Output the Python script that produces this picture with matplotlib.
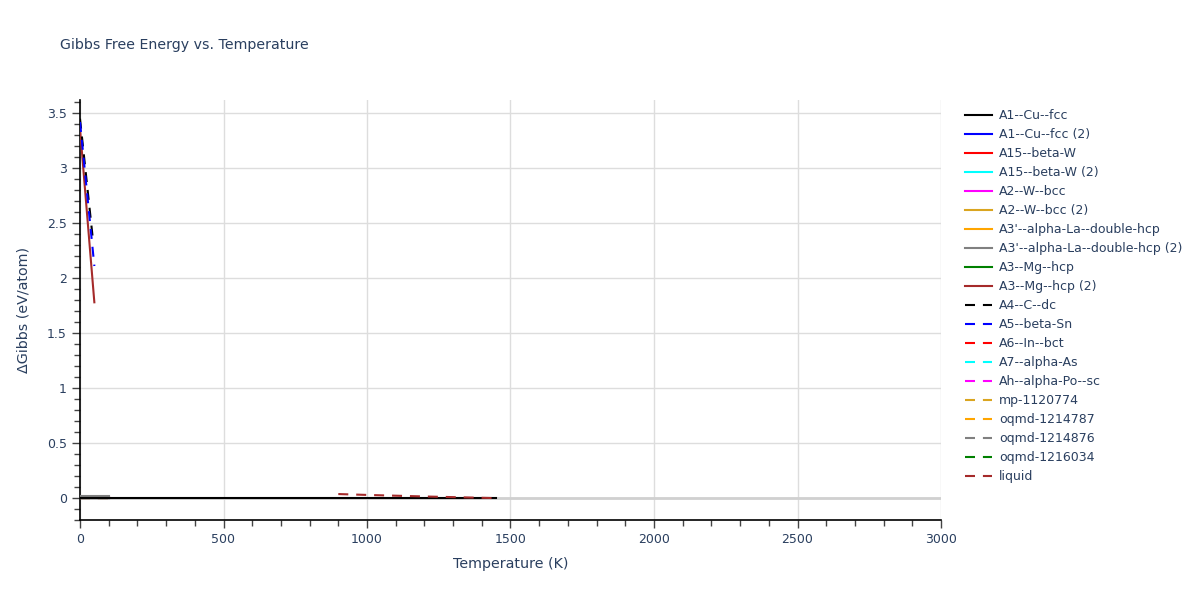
import matplotlib
matplotlib.use("Agg")
import matplotlib.pyplot as plt
from matplotlib.ticker import MultipleLocator

# ---- data ----
labels = ["A1--Cu--fcc", "A1--Cu--fcc (2)", "A15--beta-W", "A15--beta-W (2)",
          "A2--W--bcc", "A2--W--bcc (2)", "A3'--alpha-La--double-hcp",
          "A3'--alpha-La--double-hcp (2)", "A3--Mg--hcp", "A3--Mg--hcp (2)",
          "A4--C--dc", "A5--beta-Sn", "A6--In--bct", "A7--alpha-As",
          "Ah--alpha-Po--sc", "mp-1120774", "oqmd-1214787", "oqmd-1214876",
          "oqmd-1216034", "liquid"]
colors = ["black", "blue", "red", "cyan", "magenta", "#DAA520", "orange", "grey",
          "green", "brown", "black", "blue", "red", "cyan", "magenta", "#DAA520",
          "orange", "grey", "green", "brown"]
dashed = [False] * 10 + [True] * 10

T_cu = [0, 1450]
G_cu = [0.0, 0.0]
T_short = [0, 50, 100]
G_zero = [0.0, 0.0, 0.0]
G_a15 = [0.005, 0.005, 0.005]
G_la2 = [0.02, 0.02, 0.02]
T_hcp2 = [0, 50]
G_hcp2 = [3.36, 1.78]
T_c = [0, 45]
G_c = [3.45, 2.35]
T_sn = [0, 50]
G_sn = [3.42, 2.11]
T_liq = [900, 1000, 1100, 1200, 1300, 1400, 1435]
G_liq = [0.036, 0.028, 0.021, 0.014, 0.008, 0.002, 0.0]

series_T = [T_cu, T_short, T_short, T_short, T_short, T_short, T_short, T_short,
            T_short, T_hcp2, T_c, T_sn, T_short, T_short, T_short, T_short,
            T_short, T_short, T_short, T_liq]
series_G = [G_cu, G_zero, G_a15, G_zero, G_zero, G_zero, G_zero, G_la2,
            G_zero, G_hcp2, G_c, G_sn, G_zero, G_zero, G_zero, G_zero,
            G_zero, G_zero, G_zero, G_liq]

text_color = "#2a3f5f"

fig = plt.figure(figsize=(12, 6), dpi=100)
ax = fig.add_axes([80 / 1200, 80 / 600, (941 - 80) / 1200, 420 / 600])

# draw order: hidden series first, visible ones on top (as in reference)
order = [1, 3, 4, 5, 6, 8, 12, 13, 14, 15, 16, 17, 18, 2, 7, 0, 9, 10, 11, 19]
handles = {}
for k, i in enumerate(order):
    kw = dict(color=colors[i], lw=1.5, label=labels[i], zorder=3 + k * 0.01)
    if dashed[i]:
        ln, = ax.plot(series_T[i], series_G[i], linestyle=(0, (4.8, 3.8)), **kw)
    else:
        ln, = ax.plot(series_T[i], series_G[i], **kw)
    handles[i] = ln

ax.set_xlim(0, 3000)
ax.set_ylim(-0.2, 3.62)
ax.axhline(0, color="#d0d0d0", lw=2, zorder=2)

ax.xaxis.set_major_locator(MultipleLocator(500))
ax.xaxis.set_minor_locator(MultipleLocator(100))
ax.yaxis.set_major_locator(MultipleLocator(0.5))
ax.yaxis.set_minor_locator(MultipleLocator(0.1))
ax.set_yticks([0, 0.5, 1, 1.5, 2, 2.5, 3, 3.5])
ax.set_yticklabels(["0", "0.5", "1", "1.5", "2", "2.5", "3", "3.5"])
ax.grid(True, which="major", color="#dddddd", lw=1, zorder=0)
ax.set_axisbelow(True)

for s in ["top", "right"]:
    ax.spines[s].set_visible(False)
for s in ["left", "bottom"]:
    ax.spines[s].set_color("black")
    ax.spines[s].set_linewidth(1.2)

ax.tick_params(axis="both", which="major", direction="out", length=6, width=1,
               color="#444444", labelcolor=text_color, labelsize=9)
ax.tick_params(axis="both", which="minor", direction="out", length=4, width=1,
               color="#444444")

ax.set_xlabel("Temperature (K)", color=text_color, fontsize=10.3, labelpad=8)
ax.set_ylabel("ΔGibbs (eV/atom)", color=text_color, fontsize=10.3, labelpad=12)

fig.text(60 / 1200, 1 - 45 / 600, "Gibbs Free Energy vs. Temperature",
         color=text_color, fontsize=10.2, va="center", ha="left")

leg = ax.legend([handles[i] for i in range(20)], labels,
                loc="upper left", bbox_to_anchor=(960 / 1200, 1 - 104 / 600),
                bbox_transform=fig.transFigure, frameon=False,
                fontsize=9, labelspacing=0.48, handlelength=2.16,
                handletextpad=0.56, borderaxespad=0)
for t in leg.get_texts():
    t.set_color(text_color)

fig.savefig("out.png", dpi=100)
